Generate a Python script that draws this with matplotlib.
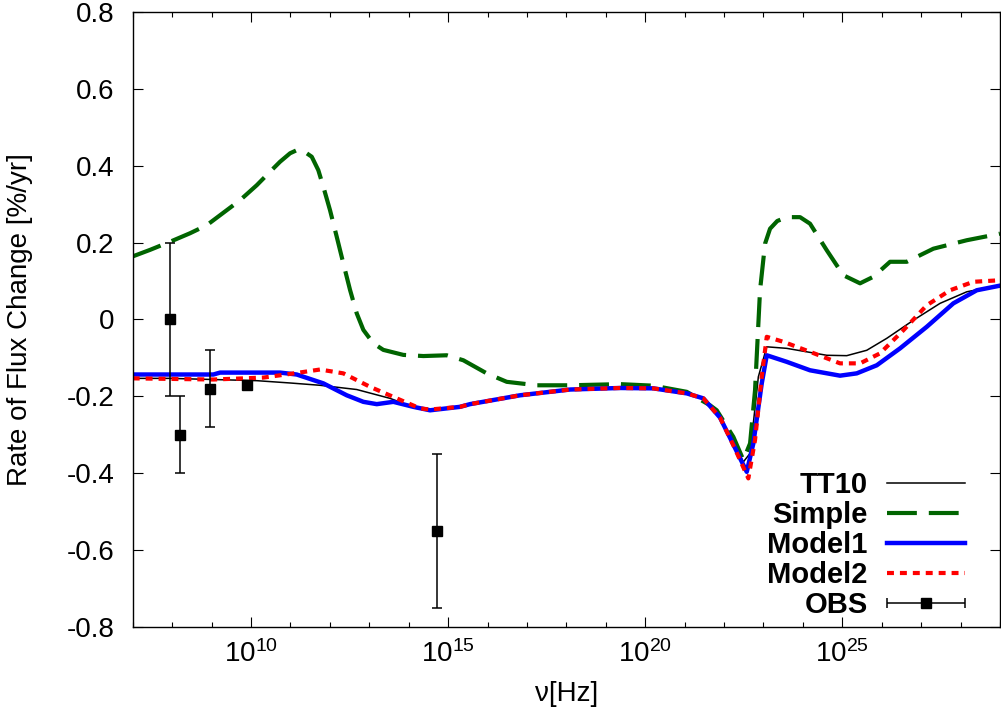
import numpy as np
import matplotlib
matplotlib.use("Agg")
import matplotlib.pyplot as plt
from matplotlib.ticker import FixedLocator, FixedFormatter
from matplotlib.legend_handler import HandlerErrorbar

plt.rcParams['font.family'] = ['Liberation Sans', 'DejaVu Sans']
plt.rcParams['mathtext.fontset'] = 'custom'
plt.rcParams['mathtext.rm'] = 'Liberation Sans'
plt.rcParams['mathtext.it'] = 'Liberation Sans:italic'
plt.rcParams['mathtext.bf'] = 'Liberation Sans:bold'
plt.rcParams['lines.scale_dashes'] = False

# ---- data (log10 of frequency, rate %/yr) ----
simple_lognu = [7.0, 7.44, 7.946, 8.45, 8.877, 9.722, 10.146, 10.483, 10.737, 10.991,
                11.160, 11.328, 11.541, 11.708, 11.835, 12.005, 12.175, 12.342, 12.512, 12.682,
                12.850, 13.104, 13.357, 13.864, 14.372, 14.965, 15.387, 15.980, 16.488, 17.249,
                18.094, 19.362, 20.206, 21.054, 21.645, 21.815, 22.236, 22.490, 22.660, 22.786,
                22.913, 23.040, 23.167, 23.35, 23.590, 23.928, 24.181, 24.605, 25.026, 25.450,
                25.787, 26.211, 26.635, 27.310, 28.157, 29.0]
simple_rate = [0.164, 0.181, 0.202, 0.224, 0.245, 0.310, 0.349, 0.384, 0.410, 0.432,
               0.440, 0.438, 0.423, 0.388, 0.345, 0.284, 0.215, 0.146, 0.077, 0.016,
               -0.027, -0.062, -0.079, -0.092, -0.095, -0.093, -0.106, -0.140, -0.162, -0.171,
               -0.171, -0.168, -0.172, -0.188, -0.223, -0.236, -0.305, -0.365, -0.322, -0.184,
               0.076, 0.197, 0.236, 0.256, 0.266, 0.266, 0.249, 0.180, 0.115, 0.094,
               0.111, 0.150, 0.150, 0.184, 0.206, 0.223]

tt10_lognu = [7.0, 7.946, 9.045, 10.146, 10.991, 11.751, 12.682, 13.527, 14.204, 14.542,
              15.303, 15.557, 16.825, 18.094, 19.362, 20.206, 21.054, 21.475, 21.898, 22.236,
              22.490, 22.660, 22.870, 23.083, 23.590, 24.605, 25.112, 25.620, 26.127, 26.802,
              27.480, 28.157, 29.0]
tt10_rate = [-0.153, -0.153, -0.156, -0.159, -0.165, -0.171, -0.182, -0.205, -0.231, -0.236,
             -0.227, -0.220, -0.197, -0.182, -0.178, -0.179, -0.192, -0.205, -0.253, -0.322,
             -0.370, -0.348, -0.149, -0.071, -0.075, -0.093, -0.094, -0.080, -0.049, -0.002,
             0.042, 0.072, 0.089]

model1_lognu = [7.0, 9.045, 9.215, 10.737, 11.160, 11.835, 12.429, 12.850, 13.190, 13.611,
                14.118, 14.542, 15.303, 15.557, 16.825, 18.094, 19.362, 20.206, 21.054, 21.475,
                21.898, 22.236, 22.576, 22.743, 22.956, 23.083, 23.590, 24.181, 24.942, 25.366,
                25.874, 26.465, 27.142, 27.817, 28.411, 29.0]
model1_rate = [-0.143, -0.143, -0.138, -0.138, -0.143, -0.166, -0.197, -0.214, -0.220, -0.214,
               -0.227, -0.236, -0.227, -0.220, -0.197, -0.182, -0.178, -0.179, -0.192, -0.205,
               -0.255, -0.325, -0.396, -0.322, -0.166, -0.093, -0.110, -0.132, -0.146, -0.140,
               -0.119, -0.075, -0.019, 0.042, 0.076, 0.088]

model2_lognu = [7.0, 9.045, 10.313, 11.160, 11.751, 12.342, 13.020, 13.697, 14.288, 14.542,
                15.303, 15.557, 16.825, 18.094, 19.362, 20.206, 21.054, 21.475, 21.898, 22.236,
                22.616, 22.786, 22.956, 23.083, 23.504, 24.181, 24.942, 25.450, 25.957, 26.549,
                27.142, 27.734, 28.325, 29.0]
model2_rate = [-0.153, -0.156, -0.151, -0.139, -0.130, -0.140, -0.175, -0.205, -0.231, -0.234,
               -0.227, -0.220, -0.197, -0.182, -0.178, -0.179, -0.192, -0.205, -0.255, -0.327,
               -0.413, -0.313, -0.149, -0.045, -0.058, -0.084, -0.114, -0.114, -0.088, -0.028,
               0.037, 0.076, 0.098, 0.102]

obs_lognu = [7.95, 8.19, 8.97, 9.91, 14.71]
obs_rate = [0.0, -0.30, -0.18, -0.17, -0.55]
obs_err = [0.20, 0.10, 0.10, 0.0, 0.20]

major_exps = [10, 15, 20, 25]
major_labels = [r'$10^{%d}$' % e for e in major_exps]
ytick_vals = [-0.8, -0.6, -0.4, -0.2, 0.0, 0.2, 0.4, 0.6, 0.8]
ytick_labels = ['-0.8', '-0.6', '-0.4', '-0.2', '0', '0.2', '0.4', '0.6', '0.8']

# ---- figure ----
fig = plt.figure(figsize=(10.01, 7.17), dpi=100)
ax = fig.add_axes([0.1326, 0.1251, 0.999 - 0.1326, 0.9837 - 0.1251])

def nu(l):
    return 10.0 ** np.asarray(l)

ax.plot(nu(tt10_lognu), tt10_rate, color='black', lw=1.1, label='TT10')
ax.plot(nu(simple_lognu), simple_rate, color='#006400', lw=3.0,
        dashes=(21.5, 8.6), label='Simple')
ax.plot(nu(model1_lognu), model1_rate, color='#0000ff', lw=3.2, label='Model1')
ax.plot(nu(model2_lognu), model2_rate, color='#ff0000', lw=3.0,
        dashes=(5.0, 4.3), label='Model2')
ax.errorbar(nu(obs_lognu), obs_rate, yerr=obs_err, fmt='s', color='black',
            ms=7.5, elinewidth=1.1, capsize=3.6, capthick=1.1)

# proxy for legend (horizontal error bar like the original)
proxy = ax.errorbar([np.nan], [np.nan], xerr=[1.0], fmt='s', color='black',
                    ms=7.5, elinewidth=1.1, capsize=3.6, capthick=1.1, label='OBS')

ax.set_xscale('log')
ax.set_xlim(1e7, 1e29)
ax.set_ylim(-0.8, 0.8)

ax.xaxis.set_major_locator(FixedLocator([10.0 ** e for e in major_exps]))
ax.xaxis.set_major_formatter(FixedFormatter(major_labels))
ax.xaxis.set_minor_locator(FixedLocator([10.0 ** e for e in range(7, 30) if e not in major_exps]))
ax.xaxis.set_minor_formatter(FixedFormatter([]))
ax.yaxis.set_major_locator(FixedLocator(ytick_vals))
ax.yaxis.set_major_formatter(FixedFormatter(ytick_labels))

ax.tick_params(axis='both', which='major', direction='in', length=7, width=0.8,
               top=True, right=True, labelsize=20)
ax.tick_params(axis='x', which='minor', direction='in', length=3.8, width=0.8, top=True)
ax.tick_params(axis='y', which='major', pad=13)
ax.tick_params(axis='x', which='major', pad=9)
for s in ax.spines.values():
    s.set_linewidth(1.0)

ax.set_xlabel('ν[Hz]', fontsize=20, labelpad=10)
ax.set_ylabel('Rate of Flux Change [%/yr]', fontsize=20, labelpad=24)

handles, labels = ax.get_legend_handles_labels()
order = ['TT10', 'Simple', 'Model1', 'Model2', 'OBS']
hmap = dict(zip(labels, handles))
leg = ax.legend([hmap[k] for k in order], order, loc='lower right',
                bbox_to_anchor=(0.973, -0.005), frameon=False, markerfirst=False,
                prop={'size': 21, 'weight': 'bold'}, handlelength=2.68,
                labelspacing=0.065, handletextpad=0.65, borderaxespad=0.0,
                handler_map={hmap['OBS']: HandlerErrorbar(xerr_size=1.34)})

fig.savefig('out.png', dpi=100)
